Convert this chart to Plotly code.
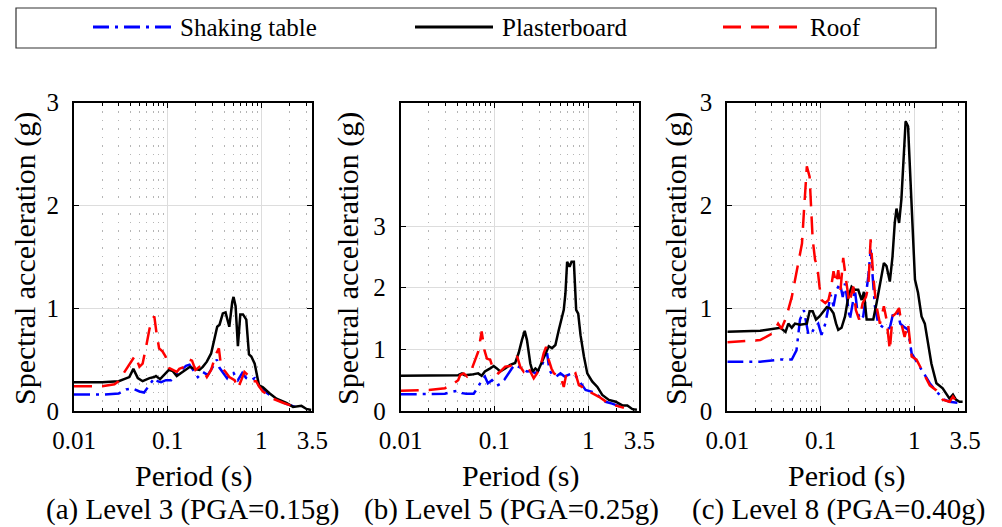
import math
import plotly.graph_objects as go

# ---------------- data ----------------
series_names = ["Shaking table", "Plasterboard", "Roof"]
tick_vals = [0.01, 0.1, 1, 3.5]
tick_text = ["0.01", "0.1", "1", "3.5"]
captions = ["(a) Level 3 (PGA=0.15g)", "(b) Level 5 (PGA=0.25g)", "(c) Level 8 (PGA=0.40g)"]

# (a) Level 3
a_table_T = [0.01, 0.02, 0.030, 0.036, 0.042, 0.050, 0.056, 0.064, 0.072, 0.078, 0.085, 0.096, 0.109, 0.123, 0.139, 0.157, 0.171, 0.185, 0.21, 0.237, 0.268, 0.303, 0.335, 0.358, 0.394, 0.43, 0.455, 0.505, 0.562, 0.626, 0.691, 0.78, 0.85, 0.96, 1.13, 1.45, 1.85, 2.3]
a_table_Sa = [0.16, 0.16, 0.17, 0.21, 0.22, 0.19, 0.18, 0.25, 0.32, 0.29, 0.28, 0.30, 0.30, 0.35, 0.40, 0.44, 0.45, 0.40, 0.33, 0.38, 0.35, 0.43, 0.50, 0.42, 0.37, 0.32, 0.36, 0.37, 0.30, 0.37, 0.32, 0.30, 0.32, 0.24, 0.18, 0.11, 0.07, 0.04]
a_board_T = [0.01, 0.02, 0.030, 0.039, 0.043, 0.048, 0.054, 0.064, 0.072, 0.075, 0.083, 0.092, 0.103, 0.113, 0.125, 0.139, 0.157, 0.173, 0.193, 0.218, 0.237, 0.262, 0.291, 0.316, 0.338, 0.358, 0.388, 0.415, 0.44, 0.455, 0.489, 0.505, 0.531, 0.562, 0.596, 0.637, 0.691, 0.738, 0.782, 0.849, 0.944, 1.04, 1.23, 1.45, 1.85, 2.18, 2.68, 3.03, 3.4]
a_board_Sa = [0.28, 0.28, 0.29, 0.33, 0.41, 0.32, 0.29, 0.32, 0.33, 0.34, 0.31, 0.35, 0.40, 0.39, 0.34, 0.37, 0.40, 0.43, 0.41, 0.40, 0.43, 0.48, 0.56, 0.69, 0.82, 0.84, 0.95, 0.96, 0.87, 0.82, 1.06, 1.11, 1.02, 0.63, 0.94, 0.94, 0.89, 0.55, 0.53, 0.46, 0.25, 0.23, 0.17, 0.12, 0.08, 0.04, 0.05, 0.02, 0.01]
a_roof_T = [0.01, 0.02, 0.027, 0.030, 0.034, 0.042, 0.045, 0.050, 0.054, 0.059, 0.064, 0.069, 0.072, 0.076, 0.081, 0.088, 0.095, 0.103, 0.113, 0.125, 0.133, 0.151, 0.171, 0.182, 0.198, 0.218, 0.237, 0.262, 0.291, 0.330, 0.352, 0.372, 0.415, 0.455, 0.518, 0.562, 0.61, 0.66, 0.72, 0.78, 0.88, 0.944, 1.04, 1.33, 1.70, 2.27]
a_roof_Sa = [0.24, 0.24, 0.26, 0.29, 0.37, 0.50, 0.54, 0.43, 0.46, 0.63, 0.80, 0.90, 0.92, 0.76, 0.61, 0.58, 0.53, 0.42, 0.40, 0.38, 0.41, 0.43, 0.50, 0.49, 0.40, 0.43, 0.40, 0.33, 0.40, 0.56, 0.61, 0.43, 0.38, 0.33, 0.30, 0.22, 0.30, 0.38, 0.35, 0.29, 0.29, 0.24, 0.19, 0.12, 0.08, 0.04]

# (b) Level 5
b_table_T = [0.01, 0.02, 0.0296, 0.035, 0.041, 0.045, 0.05, 0.06, 0.067, 0.073, 0.079, 0.085, 0.094, 0.106, 0.115, 0.128, 0.141, 0.153, 0.166, 0.181, 0.199, 0.222, 0.247, 0.273, 0.309, 0.335, 0.364, 0.385, 0.418, 0.454, 0.505, 0.56, 0.61, 0.67, 0.743, 0.827, 0.935, 1.10, 1.30, 1.53, 1.80, 2.3]
b_table_Sa = [0.27, 0.27, 0.28, 0.31, 0.33, 0.29, 0.28, 0.28, 0.39, 0.50, 0.56, 0.45, 0.50, 0.41, 0.44, 0.51, 0.61, 0.69, 0.75, 0.72, 0.69, 0.64, 0.65, 0.61, 0.69, 0.80, 0.94, 0.66, 0.58, 0.56, 0.61, 0.56, 0.58, 0.61, 0.56, 0.45, 0.34, 0.31, 0.24, 0.15, 0.12, 0.06]
b_board_T = [0.01, 0.02, 0.0296, 0.041, 0.045, 0.048, 0.057, 0.067, 0.073, 0.079, 0.090, 0.098, 0.106, 0.115, 0.130, 0.147, 0.166, 0.181, 0.196, 0.210, 0.222, 0.241, 0.255, 0.273, 0.291, 0.321, 0.349, 0.379, 0.41, 0.446, 0.484, 0.517, 0.548, 0.571, 0.595, 0.632, 0.663, 0.702, 0.743, 0.781, 0.827, 0.90, 0.976, 1.10, 1.25, 1.41, 1.66, 1.96, 2.31, 2.61, 2.96, 3.3]
b_board_Sa = [0.57, 0.57, 0.57, 0.58, 0.61, 0.58, 0.59, 0.61, 0.57, 0.64, 0.69, 0.73, 0.69, 0.64, 0.69, 0.75, 0.78, 0.94, 1.15, 1.30, 1.15, 0.77, 0.64, 0.69, 0.65, 0.80, 0.91, 1.05, 1.02, 1.07, 1.31, 1.48, 1.64, 1.91, 2.42, 2.34, 2.42, 2.42, 1.64, 1.58, 1.23, 0.88, 0.61, 0.48, 0.39, 0.26, 0.18, 0.15, 0.09, 0.09, 0.03, 0.02]
b_roof_T = [0.01, 0.02, 0.0296, 0.035, 0.041, 0.043, 0.047, 0.051, 0.055, 0.062, 0.067, 0.073, 0.078, 0.083, 0.090, 0.095, 0.102, 0.11, 0.12, 0.13, 0.147, 0.16, 0.174, 0.188, 0.204, 0.222, 0.241, 0.262, 0.284, 0.309, 0.335, 0.355, 0.379, 0.405, 0.43, 0.465, 0.505, 0.548, 0.58, 0.632, 0.685, 0.73, 0.794, 0.86, 0.935, 1.10, 1.30, 1.66, 2.1, 2.4]
b_roof_Sa = [0.33, 0.34, 0.37, 0.42, 0.50, 0.58, 0.61, 0.56, 0.61, 0.83, 0.96, 1.29, 0.99, 0.85, 0.83, 0.72, 0.64, 0.61, 0.66, 0.72, 0.73, 0.77, 0.89, 0.72, 0.64, 0.73, 0.64, 0.53, 0.61, 0.72, 0.94, 1.04, 0.83, 0.69, 0.61, 0.58, 0.56, 0.39, 0.58, 0.61, 0.58, 0.61, 0.42, 0.39, 0.31, 0.29, 0.23, 0.12, 0.07, 0.05]

# (c) Level 8
c_table_T = [0.01, 0.0225, 0.037, 0.043, 0.049, 0.055, 0.060, 0.066, 0.074, 0.080, 0.087, 0.094, 0.102, 0.112, 0.121, 0.128, 0.137, 0.148, 0.161, 0.172, 0.182, 0.193, 0.205, 0.22, 0.232, 0.246, 0.263, 0.285, 0.305, 0.323, 0.342, 0.359, 0.38, 0.412, 0.459, 0.506, 0.549, 0.596, 0.66, 0.71, 0.775, 0.86, 0.94, 1.10, 1.25, 1.47, 1.73, 2.1, 2.39, 2.9]
c_table_Sa = [0.48, 0.48, 0.50, 0.50, 0.50, 0.59, 0.89, 0.98, 0.74, 0.76, 0.82, 0.85, 0.74, 0.85, 1.02, 1.13, 1.02, 1.18, 1.24, 1.11, 1.24, 1.05, 0.89, 1.05, 1.18, 0.98, 0.89, 0.92, 1.11, 1.31, 1.57, 1.31, 1.02, 0.85, 0.82, 0.79, 0.81, 0.95, 0.97, 0.85, 0.82, 0.79, 0.56, 0.46, 0.37, 0.27, 0.19, 0.11, 0.09, 0.08]
c_board_T = [0.01, 0.0225, 0.037, 0.042, 0.045, 0.049, 0.053, 0.060, 0.071, 0.076, 0.082, 0.089, 0.097, 0.107, 0.116, 0.126, 0.137, 0.146, 0.154, 0.167, 0.182, 0.197, 0.214, 0.232, 0.252, 0.274, 0.290, 0.31, 0.336, 0.365, 0.396, 0.43, 0.474, 0.506, 0.549, 0.586, 0.62, 0.647, 0.69, 0.73, 0.775, 0.81, 0.86, 0.91, 0.97, 1.02, 1.10, 1.20, 1.30, 1.41, 1.53, 1.73, 2.02, 2.39, 2.6, 2.8, 3.06, 3.3]
c_board_Sa = [0.77, 0.78, 0.81, 0.77, 0.85, 0.81, 0.85, 0.84, 0.85, 0.97, 0.97, 0.89, 0.92, 0.97, 1.01, 1.00, 0.95, 0.85, 0.79, 0.81, 0.92, 1.11, 1.21, 1.18, 1.18, 1.08, 1.16, 0.89, 0.89, 0.89, 1.05, 1.24, 1.44, 1.41, 1.26, 1.50, 1.83, 1.97, 1.83, 2.06, 2.48, 2.82, 2.77, 2.31, 1.67, 1.28, 1.15, 0.92, 0.85, 0.66, 0.46, 0.27, 0.22, 0.12, 0.16, 0.11, 0.09, 0.09]
c_roof_T = [0.01, 0.0225, 0.031, 0.035, 0.038, 0.043, 0.049, 0.055, 0.063, 0.066, 0.071, 0.076, 0.078, 0.082, 0.087, 0.092, 0.097, 0.102, 0.112, 0.121, 0.128, 0.137, 0.146, 0.154, 0.163, 0.174, 0.189, 0.202, 0.223, 0.238, 0.258, 0.281, 0.305, 0.323, 0.342, 0.365, 0.39, 0.43, 0.474, 0.506, 0.549, 0.586, 0.636, 0.69, 0.73, 0.79, 0.86, 0.94, 1.06, 1.25, 1.47, 1.73, 2.02, 2.39, 2.6, 2.95]
c_roof_Sa = [0.67, 0.69, 0.76, 0.85, 0.80, 0.92, 1.11, 1.34, 1.63, 1.93, 2.38, 2.28, 2.05, 1.67, 1.47, 1.41, 1.21, 1.08, 1.05, 1.08, 1.18, 1.36, 1.24, 1.37, 1.18, 1.49, 1.24, 1.05, 1.21, 0.98, 0.89, 1.05, 1.11, 1.21, 1.67, 1.31, 1.05, 0.85, 1.02, 0.89, 0.59, 0.92, 0.95, 1.00, 0.85, 0.72, 0.85, 0.53, 0.50, 0.37, 0.25, 0.20, 0.11, 0.09, 0.14, 0.07]

y_max = [3, 5, 3]
y_ticks = [0, 1, 2, 3]

# ---------------- styling ----------------
W, H = 1002, 527
FONT = "Liberation Serif, Times New Roman, DejaVu Serif, serif"
styles = {
    "Shaking table": dict(color="#0000FF", dash="16px,6px,3px,6px", width=2.5),
    "Plasterboard": dict(color="#000000", dash="solid", width=2.5),
    "Roof": dict(color="#FF0000", dash="18px,10px", width=2.5),
}

def px2x(px):
    return px / W

def px2y(py):
    return (H - py) / H

x_dom = [(74, 312.3), (400.7, 639.3), (727.3, 965)]
y_dom = [px2y(411), px2y(102.7)]

panels = [
    [(a_table_T, a_table_Sa), (a_board_T, a_board_Sa), (a_roof_T, a_roof_Sa)],
    [(b_table_T, b_table_Sa), (b_board_T, b_board_Sa), (b_roof_T, b_roof_Sa)],
    [(c_table_T, c_table_Sa), (c_board_T, c_board_Sa), (c_roof_T, c_roof_Sa)],
]

fig = go.Figure()
minor_vals = [m * 10 ** e for e in (-2, -1) for m in range(2, 10)] + [2, 3]

layout = dict(
    template="none",
    width=W, height=H, margin=dict(l=0, r=0, t=0, b=0, autoexpand=False),
    paper_bgcolor="white", plot_bgcolor="white", showlegend=False,
    font=dict(family=FONT, size=25, color="black"),
)

for i, series in enumerate(panels):
    sfx = "" if i == 0 else str(i + 1)
    for name, (T, Sa) in zip(series_names, series):
        st = styles[name]
        fig.add_trace(go.Scatter(
            x=T, y=Sa, mode="lines", name=name, showlegend=False,
            line=dict(color=st["color"], dash=st["dash"], width=st["width"]),
            xaxis="x" + sfx, yaxis="y" + sfx,
        ))
    layout["xaxis" + sfx] = dict(
        domain=[px2x(x_dom[i][0]), px2x(x_dom[i][1])], anchor="y" + sfx,
        type="log", range=[-2, math.log10(3.5)], automargin=False,
        tickmode="array", tickvals=tick_vals, ticktext=tick_text,
        ticks="inside", ticklen=5, tickwidth=1.2, tickcolor="black",
        showline=True, linecolor="black", linewidth=2, mirror="ticks",
        showgrid=True, gridcolor="#dddddd", gridwidth=1, zeroline=False,
        ticklabelstandoff=6,
        minor=dict(tickvals=minor_vals, ticks="inside", ticklen=3, tickcolor="black",
                   showgrid=True, gridcolor="#b5b5b5", gridwidth=1, griddash="1.5px,7px"),
        tickfont=dict(family=FONT, size=25, color="black"),
    )
    layout["yaxis" + sfx] = dict(
        domain=y_dom, anchor="x" + sfx, range=[0, y_max[i]], automargin=False,
        tickmode="array", tickvals=y_ticks, ticktext=[str(v) for v in y_ticks],
        ticks="inside", ticklen=5, tickwidth=1.2, tickcolor="black",
        showline=True, linecolor="black", linewidth=2, mirror="ticks",
        showgrid=True, gridcolor="#dddddd", gridwidth=1, zeroline=False,
        ticklabelstandoff=8,
        tickfont=dict(family=FONT, size=25, color="black"),
    )

fig.update_layout(**layout)

# axis titles and captions
ytitle_x = [25, 348, 676]
title_cx = [193, 520, 846]
caption_cx = [192, 511, 838]
for i in range(3):
    fig.add_annotation(text="Spectral acceleration (g)", xref="paper", yref="paper",
                       x=px2x(ytitle_x[i]), y=px2y(259), textangle=-90, showarrow=False,
                       xanchor="center", yanchor="middle", font=dict(family=FONT, size=30, color="black"))
    fig.add_annotation(text="Period (s)", xref="paper", yref="paper",
                       x=px2x(title_cx[i]), y=px2y(476), showarrow=False,
                       xanchor="center", yanchor="middle", font=dict(family=FONT, size=30, color="black"))
    fig.add_annotation(text=captions[i], xref="paper", yref="paper",
                       x=px2x(caption_cx[i]), y=px2y(509), showarrow=False,
                       xanchor="center", yanchor="middle", font=dict(family=FONT, size=29, color="black"))

# legend box (drawn manually to match long sample lines)
fig.add_shape(type="rect", xref="paper", yref="paper", x0=px2x(16), x1=px2x(936),
              y0=px2y(48), y1=px2y(8), line=dict(color="#333333", width=1.2), fillcolor="white", layer="above")
leg_line_x = [(93, 172), (415, 493), (723, 802)]
leg_text_x = [178, 500, 808]
for name, (x0, x1), tx in zip(series_names, leg_line_x, leg_text_x):
    st = styles[name]
    fig.add_shape(type="line", xref="paper", yref="paper", x0=px2x(x0), x1=px2x(x1),
                  y0=px2y(27), y1=px2y(27),
                  line=dict(color=st["color"], dash=st["dash"], width=3))
    fig.add_annotation(text=name, xref="paper", yref="paper", x=px2x(tx), y=px2y(28),
                       showarrow=False, xanchor="left", yanchor="middle",
                       font=dict(family=FONT, size=25, color="black"))

fig.write_html("out.html")
